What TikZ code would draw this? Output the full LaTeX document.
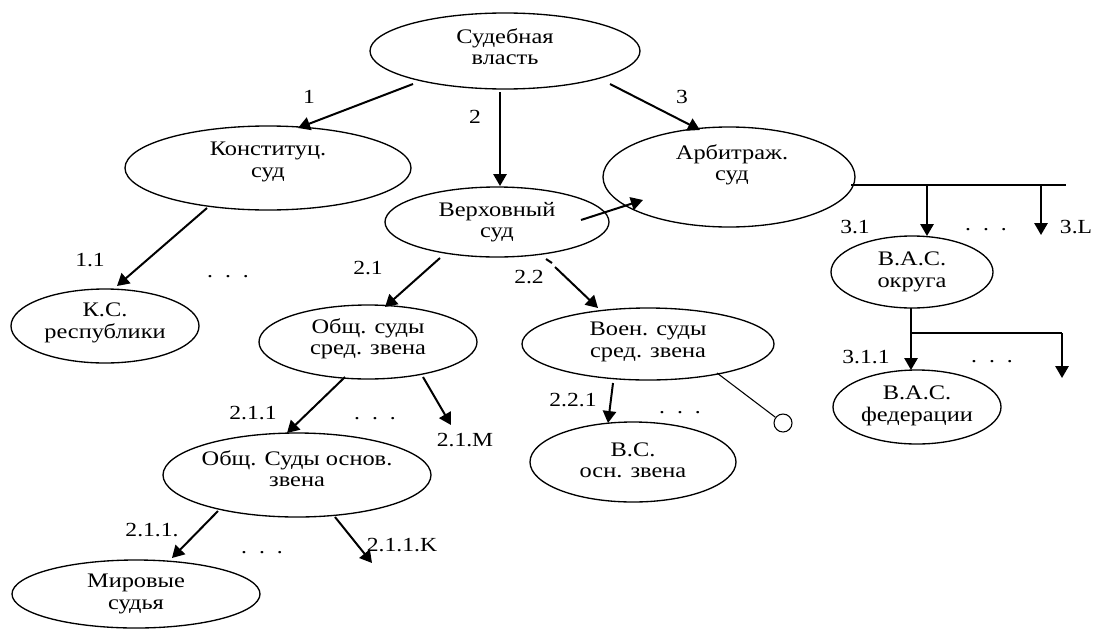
\documentclass[tikz,border=0pt]{standalone}
\usepackage{fontspec}
\setmainfont{Liberation Serif}
\newfontfamily\widefont[FakeStretch=1.18]{Liberation Serif}
\usetikzlibrary{shapes.geometric,arrows.meta,calc}
\newcommand\mydots{.\hspace{9pt}.\hspace{9pt}.}
\begin{document}
\begin{tikzpicture}[x=0.75pt,y=-0.75pt,
  ell/.style 2 args={draw,ellipse,line width=1pt,inner sep=0pt,minimum width=#1*1.5pt,minimum height=#2*1.5pt},
  etext/.style={align=center,font=\widefont\fontsize{15.5}{16}\selectfont,inner sep=0pt},
  lbl/.style={font=\widefont\fontsize{15}{16}\selectfont,inner sep=0pt},
  arr/.style={line width=1.5pt,-{Triangle[length=9pt,width=10pt]}},
  ln/.style={line width=1pt},
  thin/.style={line width=0.8pt}]
\useasboundingbox (0,0) rectangle (1094,628);

% ellipses
\node[ell={135}{38}] (A) at (505,51) {};
\node[ell={143}{42}] (B) at (268,168) {};
\node[ell={112}{35}] (C) at (497,222) {};
\node[ell={126}{50}] (D) at (729,177) {};
\node[ell={94}{37}]  (E) at (105,326) {};
\node[ell={109}{37}] (F) at (368,342) {};
\node[ell={126}{36}] (G) at (648,344) {};
\node[ell={81}{36}]  (H) at (912,272) {};
\node[ell={84}{37}]  (I) at (917,407) {};
\node[ell={134}{42}] (J) at (297,475) {};
\node[ell={103}{40}] (K) at (633,462) {};
\node[ell={124}{34}] (L) at (136,594) {};

% texts
\node[etext] (At) at ($(A)+(0,-4)$) {Судебная\\власть};
\node[etext] (Bt) at ($(B)+(0,-6)$) {Конституц.\\суд};
\node[etext] (Ct) at (C) {Верховный\\суд};
\node[etext] (Dt) at ($(D)+(3,-12)$) {Арбитраж.\\суд};
\node[etext] (Et) at ($(E)+(0,-3)$) {К.С.\\республики};
\node[etext] (Ft) at ($(F)+(0,-3)$) {Общ. суды\\сред. звена};
\node[etext] (Gt) at ($(G)+(0,-2)$) {Воен. суды\\сред. звена};
\node[etext] (Ht) at ($(H)+(0,0)$) {В.А.С.\\округа};
\node[etext] (It) at ($(I)+(0,-1)$) {В.А.С.\\федерации};
\node[etext] (Jt) at ($(J)+(0,-6)$) {Общ. Суды основ.\\звена};
\node[etext] (Kt) at ($(K)+(0,-2)$) {В.С.\\осн. звена};
\node[etext] (Lt) at (L) {Мировые\\судья};

% free ends
\coordinate (m) at (451,425);
\coordinate (k) at (372,563);
\coordinate (r) at (1066,185);
\coordinate (b31) at (927,185);
\coordinate (b3L) at (1041,185);
\coordinate (e3L) at (1041,235);
\coordinate (br) at (911,333);
\coordinate (bre) at (1062,333);
\coordinate (brt) at (1062,378);
\node[draw,circle,thin,minimum size=13.5pt,inner sep=0pt] (o) at (783,423) {};

% connectors
\draw[arr] ($(A)+(-92,33)$) -- ($(B)+(30,-40)$);
\draw[arr] ($(A)+(-5,41)$) -- ($(C)+(3,-36)$);
\draw[arr] ($(A)+(105,33)$) -- ($(D)+(-29,-47)$);
\draw[arr] ($(C)+(84,-2)$) -- ($(D)+(-86,23)$);
\draw[arr] ($(B)+(-61,40)$) -- ($(E)+(12,-40)$);
\draw[arr] ($(C)+(-57,36)$) -- ($(F)+(17,-35)$);
\draw[line width=1.5pt] ($(C)+(49,37)$) -- ($(C)+(55,41)$);
\draw[arr] ($(C)+(58,45)$) -- ($(G)+(-50,-36)$);
\draw[arr] ($(F)+(-23,35)$) -- ($(J)+(-10,-42)$);
\draw[arr] ($(F)+(55,35)$) -- (m);
\draw[arr] ($(J)+(-79,36)$) -- ($(L)+(36,-36)$);
\draw[arr] ($(J)+(38,42)$) -- (k);
\draw[arr] ($(G)+(-35,39)$) -- ($(K)+(-25,-39)$);
\draw[thin] ($(G)+(69,29)$) -- (o.143);
\draw[ln] ($(D)+(122,8)$) -- (r);
\draw[arr] (b31) -- ($(H)+(15,-36)$);
\draw[arr] (b3L) -- (e3L);
\draw[arr] ($(H)+(-1,36)$) -- ($(I)+(-6,-37)$);
\draw[ln] (br) -- (bre);
\draw[arr] (bre) -- (brt);

% labels
\node[lbl] (l1) at (309,97) {1};
\node[lbl] (l2) at (475,117) {2};
\node[lbl] (l3) at (682,97) {3};
\node[lbl] (l11) at (90,260) {1.1};
\node[lbl] (d1) at (228,277) {\mydots};
\node[lbl] (l21) at (368,268) {2.1};
\node[lbl] (l22) at (529,277) {2.2};
\node[lbl] (l31) at (855,227) {3.1};
\node[lbl] (d3) at (986,230) {\mydots};
\node[lbl] (l3L) at (1076,227) {3.L};
\node[lbl] (l211) at (253,413) {2.1.1};
\node[lbl] (d21) at (375,419) {\mydots};
\node[lbl] (l21M) at (465,440) {2.1.M};
\node[lbl] (l221) at (573,400) {2.2.1};
\node[lbl] (d22) at (680,413) {\mydots};
\node[lbl] (l311) at (866,357) {3.1.1};
\node[lbl] (d31) at (992,362) {\mydots};
\node[lbl] (l2111) at (152,530) {2.1.1.};
\node[lbl] (d211) at (262,553) {\mydots};
\node[lbl] (l211K) at (402,545) {2.1.1.K};
\end{tikzpicture}
\end{document}
